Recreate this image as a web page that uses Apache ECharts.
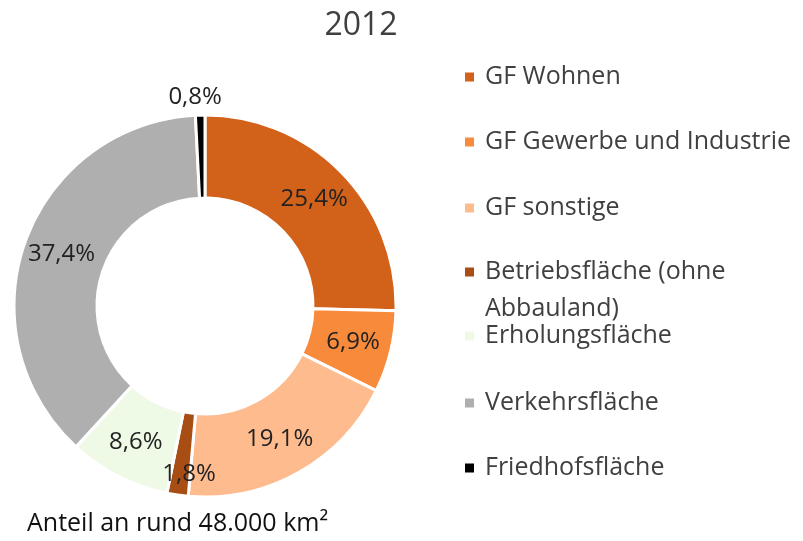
<!DOCTYPE html>
<html>
<head>
<meta charset="utf-8">
<script src="https://cdn.jsdelivr.net/npm/echarts@6/dist/echarts.min.js"></script>
<style>
html, body { margin: 0; padding: 0; background: #fff; }
#chart { width: 803px; height: 541px; }
</style>
</head>
<body>
<div id="chart"></div>
<script>
// Flächenanteile 2012 (in %)
const categories = [
    "GF Wohnen",
    "GF Gewerbe und Industrie",
    "GF sonstige",
    "Betriebsfläche (ohne Abbauland)",
    "Erholungsfläche",
    "Verkehrsfläche",
    "Friedhofsfläche"
];
const shares = [25.4, 6.9, 19.1, 1.8, 8.6, 37.4, 0.8];
const palette = ["#d26119", "#f78a3b", "#fdbb8e", "#a84e14", "#effae6", "#afafaf", "#000000"];

const font = "'Open Sans', sans-serif";
const legendCenters = [77, 142, 208, 272, 336, 403, 468];

function fmt(v) {
    return v.toFixed(1).replace(".", ",") + "%";
}

const chart = echarts.init(document.getElementById("chart"));

const legends = categories.map((name, i) => {
    const multi = name.indexOf("(ohne") > 0;
    return {
        data: [name],
        orient: "vertical",
        left: 463,
        top: multi ? legendCenters[i] - 55.5 : legendCenters[i] - 12.5,
        padding: 0,
        icon: "rect",
        itemWidth: 11,
        itemHeight: 11,
        selectedMode: false,
        // leerer erster Zeile, damit das Symbol auf Höhe der ersten Textzeile sitzt
        formatter: n => multi ? "\n" + n.replace(" Abbauland)", "\nAbbauland)") : n,
        textStyle: {
            fontFamily: font,
            fontSize: 25,
            color: "#404040",
            lineHeight: multi ? 37 : 25,
            padding: [0, 0, 0, 5]
        }
    };
});

chart.setOption({
    animation: false,
    color: palette,
    title: [
        {
            text: "2012",
            left: 356,
            top: 5,
            textAlign: "center",
            textStyle: { fontFamily: font, fontSize: 32, fontWeight: "normal", color: "#404040" }
        },
        {
            text: "Anteil an rund 48.000 km²",
            left: 22,
            top: 506,
            textStyle: { fontFamily: font, fontSize: 25, fontWeight: "normal", color: "#111" }
        }
    ],
    legend: legends,
    series: [
        {
            type: "pie",
            center: [205, 306],
            radius: [108, 191],
            startAngle: 90,
            clockwise: true,
            avoidLabelOverlap: false,
            itemStyle: { borderColor: "#fff", borderWidth: 3 },
            label: {
                show: true,
                position: "inside",
                fontFamily: font,
                fontSize: 24,
                color: "#222",
                formatter: p => fmt(p.value)
            },
            labelLine: { show: false },
            labelLayout: p => {
                if (p.dataIndex === 6) return { align: "center", verticalAlign: "bottom", dy: -4 };
                if (p.dataIndex === 3) return { dy: 17, dx: 6 };
                return {};
            },
            emphasis: { disabled: true },
            data: categories.map((name, i) => {
                const item = { name: name, value: shares[i] };
                if (name === "Friedhofsfläche") {
                    item.label = { position: "outside" };
                    item.labelLine = { show: false, length: 2, length2: 0 };
                }
                return item;
            })
        }
    ]
});
</script>
</body>
</html>
